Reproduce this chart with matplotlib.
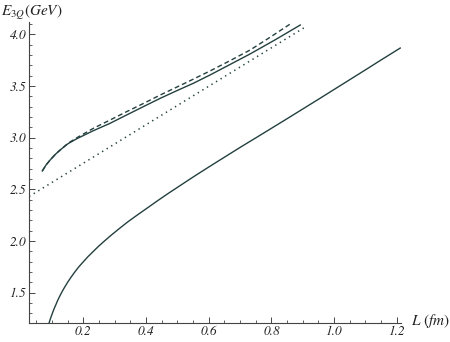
import matplotlib
matplotlib.use("Agg")
import matplotlib.pyplot as plt
from matplotlib.ticker import MultipleLocator

# lower curve
L_low = [0.090, 0.095, 0.100, 0.106, 0.112, 0.118, 0.125, 0.132, 0.140, 0.150,
         0.160, 0.172, 0.185, 0.200, 0.215, 0.232, 0.250, 0.270, 0.290, 0.315,
         0.340, 0.370, 0.400, 0.435, 0.470, 0.510, 0.550, 0.600, 0.650, 0.700,
         0.750, 0.800, 0.850, 0.900, 0.950, 1.000, 1.050, 1.100, 1.150, 1.211]
E_low = [1.20, 1.247, 1.29, 1.338, 1.38, 1.423, 1.467, 1.508, 1.55, 1.60,
         1.645, 1.696, 1.747, 1.798, 1.848, 1.899, 1.952, 2.006, 2.058, 2.12,
         2.18, 2.246, 2.31, 2.385, 2.458, 2.538, 2.618, 2.715, 2.81, 2.905,
         2.997, 3.09, 3.183, 3.277, 3.371, 3.466, 3.561, 3.656, 3.752, 3.867]

# upper solid curve
L_up = [0.069, 0.081, 0.094, 0.110, 0.126, 0.151, 0.179, 0.232, 0.285, 0.338,
        0.391, 0.445, 0.498, 0.551, 0.604, 0.668, 0.732, 0.812, 0.892]
E_up = [2.677, 2.735, 2.783, 2.836, 2.880, 2.941, 2.989, 3.067, 3.138, 3.219,
        3.299, 3.380, 3.454, 3.526, 3.606, 3.708, 3.810, 3.947, 4.090]

# dashed curve
L_dash = [0.069, 0.081, 0.094, 0.110, 0.126, 0.151, 0.179, 0.232, 0.285, 0.338,
          0.392, 0.445, 0.525, 0.604, 0.668, 0.732, 0.796, 0.860]
E_dash = [2.677, 2.735, 2.783, 2.836, 2.880, 2.945, 2.998, 3.090, 3.170, 3.251,
          3.331, 3.412, 3.528, 3.645, 3.745, 3.848, 3.972, 4.100]

# dotted line
L_dot = [0.027, 0.913]
E_dot = [2.43, 4.08]

col = '#23403f'
plt.rcParams['mathtext.fontset'] = 'stix'

fig = plt.figure(figsize=(4.5, 3.42), dpi=100)
ax = fig.add_axes([0.0644, 0.0556, 0.827, 0.880])

ax.plot(L_low, E_low, color=col, lw=1.0)
ax.plot(L_up, E_up, color=col, lw=1.0)
ax.plot(L_dash, E_dash, color=col, lw=1.0, dashes=(3.5, 2.2))
ax.plot(L_dot, E_dot, color=col, lw=1.1, dashes=(0.9, 2.6))

ax.spines['top'].set_visible(False)
ax.spines['right'].set_visible(False)
for s in ['left', 'bottom']:
    ax.spines[s].set_color('#444444')
    ax.spines[s].set_linewidth(0.8)

ax.xaxis.set_major_locator(MultipleLocator(0.2))
ax.xaxis.set_minor_locator(MultipleLocator(0.05))
ax.yaxis.set_major_locator(MultipleLocator(0.5))
ax.yaxis.set_minor_locator(MultipleLocator(0.1))
ax.tick_params(which='major', direction='in', length=4, width=0.7, color='#444444',
               labelsize=9.5, pad=2)
ax.tick_params(which='minor', direction='in', length=2.5, width=0.6, color='#444444')
ax.set_xticks(ax.get_xticks())
ax.set_yticks(ax.get_yticks())
ax.set_xticklabels(['%.1f' % t for t in ax.get_xticks()])
ax.set_yticklabels(['%.1f' % t for t in ax.get_yticks()])
ax.set_xlim(0.0265, 1.2138)
ax.set_ylim(1.205, 4.119)
for lab in ax.get_xticklabels() + ax.get_yticklabels():
    lab.set_family('STIXGeneral')
    lab.set_style('italic')
    lab.set_color('#222222')

fig.text(0.003, 0.962, r'$E_{3Q}(GeV)$', fontsize=11, color='#222222', va='center')
fig.text(0.913, 0.062, r'$L\ (fm)$', fontsize=11, color='#222222', va='center')

fig.savefig('out.png', dpi=100)
